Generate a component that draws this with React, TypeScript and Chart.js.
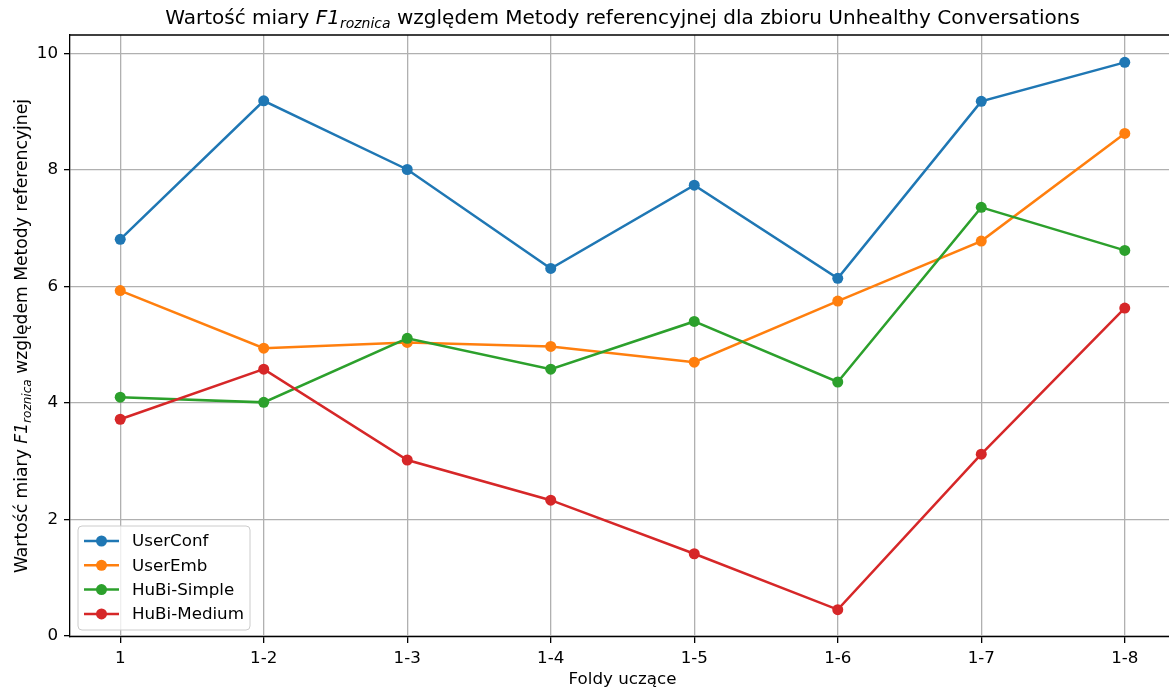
import React, { useEffect, useRef } from "react";
import { Chart, registerables } from "chart.js";

Chart.register(...registerables);

const categories = ["1", "1-2", "1-3", "1-4", "1-5", "1-6", "1-7", "1-8"];
const userConf = [6.81, 9.19, 8.01, 6.31, 7.74, 6.14, 9.18, 9.85];
const userEmb = [5.93, 4.94, 5.04, 4.97, 4.7, 5.75, 6.78, 8.63];
const hubiSimple = [4.1, 4.01, 5.11, 4.58, 5.4, 4.36, 7.36, 6.62];
const hubiMedium = [3.72, 4.58, 3.02, 2.33, 1.41, 0.45, 3.12, 5.63];
const seriesNames = ["UserConf", "UserEmb", "HuBi-Simple", "HuBi-Medium"];
const seriesColors = ["#1f77b4", "#ff7f0e", "#2ca02c", "#d62728"];
const yTicks = [0, 2, 4, 6, 8, 10];

const FONT = "'DejaVu Sans', sans-serif";
const FS = 16.7;
const AREA_RIGHT = 1175;

type Part = { text: string; font: string; dy: number };

function richWidth(ctx: CanvasRenderingContext2D, parts: Part[]) {
  let w = 0;
  for (const p of parts) {
    ctx.font = p.font;
    w += ctx.measureText(p.text).width;
  }
  return w;
}

function drawRich(ctx: CanvasRenderingContext2D, parts: Part[], cx: number, baseline: number) {
  const w = richWidth(ctx, parts);
  let x = cx - w / 2;
  ctx.textAlign = "left";
  ctx.textBaseline = "alphabetic";
  for (const p of parts) {
    ctx.font = p.font;
    ctx.fillText(p.text, x, baseline + p.dy);
    x += ctx.measureText(p.text).width;
  }
}

const widenPlugin = {
  id: "widen",
  afterLayout(chart: any) {
    const xs = chart.scales.x;
    xs.right = AREA_RIGHT;
    xs.width = xs.right - xs.left;
    xs.configure();
    const a = chart.chartArea;
    a.right = AREA_RIGHT;
    a.width = a.right - a.left;
  },
};

const decorPlugin = {
  id: "decor",
  afterDraw(chart: any) {
    const ctx: CanvasRenderingContext2D = chart.ctx;
    const a = chart.chartArea;
    ctx.save();
    ctx.strokeStyle = "#000";
    ctx.lineWidth = 1.3;
    ctx.beginPath();
    ctx.moveTo(a.left, a.top);
    ctx.lineTo(a.right, a.top);
    ctx.lineTo(a.right, a.bottom);
    ctx.stroke();

    ctx.fillStyle = "#000";
    const ts = 20;
    drawRich(
      ctx,
      [
        { text: "Wartość miary ", font: `${ts}px ${FONT}`, dy: 0 },
        { text: "F1", font: `italic ${ts}px ${FONT}`, dy: 0 },
        { text: "roznica", font: `italic ${ts * 0.7}px ${FONT}`, dy: 4 },
        {
          text: " względem Metody referencyjnej dla zbioru Unhealthy Conversations",
          font: `${ts}px ${FONT}`,
          dy: 0,
        },
      ],
      (a.left + a.right) / 2,
      24
    );

    ctx.font = `${FS}px ${FONT}`;
    ctx.textAlign = "center";
    ctx.textBaseline = "alphabetic";
    ctx.fillText("Foldy uczące", (a.left + a.right) / 2, 684);

    ctx.save();
    ctx.translate(27, (a.top + a.bottom) / 2);
    ctx.rotate(-Math.PI / 2);
    const ls = 17.2;
    drawRich(
      ctx,
      [
        { text: "Wartość miary ", font: `${ls}px ${FONT}`, dy: 0 },
        { text: "F1", font: `italic ${ls}px ${FONT}`, dy: 0 },
        { text: "roznica", font: `italic ${ls * 0.7}px ${FONT}`, dy: 3.5 },
        { text: " względem Metody referencyjnej", font: `${ls}px ${FONT}`, dy: 0 },
      ],
      0,
      0
    );
    ctx.restore();

    const bx = 78, by = 526, bw = 172, bh = 104, r = 4;
    ctx.beginPath();
    ctx.moveTo(bx + r, by);
    ctx.lineTo(bx + bw - r, by);
    ctx.quadraticCurveTo(bx + bw, by, bx + bw, by + r);
    ctx.lineTo(bx + bw, by + bh - r);
    ctx.quadraticCurveTo(bx + bw, by + bh, bx + bw - r, by + bh);
    ctx.lineTo(bx + r, by + bh);
    ctx.quadraticCurveTo(bx, by + bh, bx, by + bh - r);
    ctx.lineTo(bx, by + r);
    ctx.quadraticCurveTo(bx, by, bx + r, by);
    ctx.closePath();
    ctx.fillStyle = "rgba(255,255,255,0.8)";
    ctx.fill();
    ctx.strokeStyle = "#cccccc";
    ctx.lineWidth = 1;
    ctx.stroke();
    seriesNames.forEach((name, i) => {
      const y = 541 + i * 24.3;
      ctx.strokeStyle = seriesColors[i];
      ctx.lineWidth = 2.5;
      ctx.beginPath();
      ctx.moveTo(84, y);
      ctx.lineTo(119, y);
      ctx.stroke();
      ctx.fillStyle = seriesColors[i];
      ctx.beginPath();
      ctx.arc(101.5, y, 5.5, 0, Math.PI * 2);
      ctx.fill();
      ctx.fillStyle = "#000";
      ctx.font = `${FS}px ${FONT}`;
      ctx.textAlign = "left";
      ctx.textBaseline = "middle";
      ctx.fillText(name, 132, y + 1);
    });
    ctx.restore();
  },
};

export default function App() {
  const ref = useRef<HTMLCanvasElement>(null);
  useEffect(() => {
    document.body.style.margin = "0";
    const allSeries = [userConf, userEmb, hubiSimple, hubiMedium];
    const chart = new Chart(ref.current!, {
      type: "line",
      data: {
        datasets: allSeries.map((vals, i) => ({
          label: seriesNames[i],
          data: vals.map((v, j) => ({ x: j, y: v })),
          borderColor: seriesColors[i],
          backgroundColor: seriesColors[i],
          pointBackgroundColor: seriesColors[i],
          pointBorderWidth: 0,
          pointRadius: 5.5,
          borderWidth: 2.5,
          tension: 0,
          order: 3 - i,
          clip: false as any,
        })),
      },
      options: {
        animation: false,
        responsive: false,
        devicePixelRatio: 1,
        layout: { padding: { top: 35, right: 0, left: 0, bottom: 0 } },
        plugins: {
          legend: { display: false },
          title: { display: false },
          tooltip: { enabled: false },
        },
        scales: {
          x: {
            type: "linear",
            min: -0.35,
            max: 7.35,
            afterBuildTicks: (s: any) => {
              s.ticks = categories.map((_, i) => ({ value: i }));
            },
            afterFit: (s: any) => {
              s.height = 53;
              s.paddingLeft = 0;
              s.paddingRight = 0;
            },
            ticks: {
              callback: (v: any) => categories[v] ?? "",
              font: { family: FONT, size: FS },
              color: "#000",
              padding: 6,
              maxRotation: 0,
              autoSkip: false,
            },
            grid: {
              color: "#b0b0b0",
              lineWidth: 1.3,
              tickLength: 6,
              tickColor: "#000",
            },
            border: { display: true, color: "#000", width: 1.3 },
          },
          y: {
            type: "linear",
            min: -0.02,
            max: 10.32,
            afterBuildTicks: (s: any) => {
              s.ticks = yTicks.map((v) => ({ value: v }));
            },
            afterFit: (s: any) => {
              s.width = 70;
              s.paddingTop = 0;
              s.paddingBottom = 0;
            },
            ticks: {
              font: { family: FONT, size: FS },
              color: "#000",
              padding: 6,
            },
            grid: {
              color: "#b0b0b0",
              lineWidth: 1.3,
              tickLength: 6,
              tickColor: "#000",
            },
            border: { display: true, color: "#000", width: 1.3 },
          },
        },
      },
      plugins: [widenPlugin, decorPlugin],
    } as any);
    return () => chart.destroy();
  }, []);
  return (
    <div style={{ position: "absolute", left: 0, top: 0, width: 1169, height: 690 }}>
      <canvas ref={ref} width={1169} height={690} style={{ width: 1169, height: 690 }} />
    </div>
  );
}
